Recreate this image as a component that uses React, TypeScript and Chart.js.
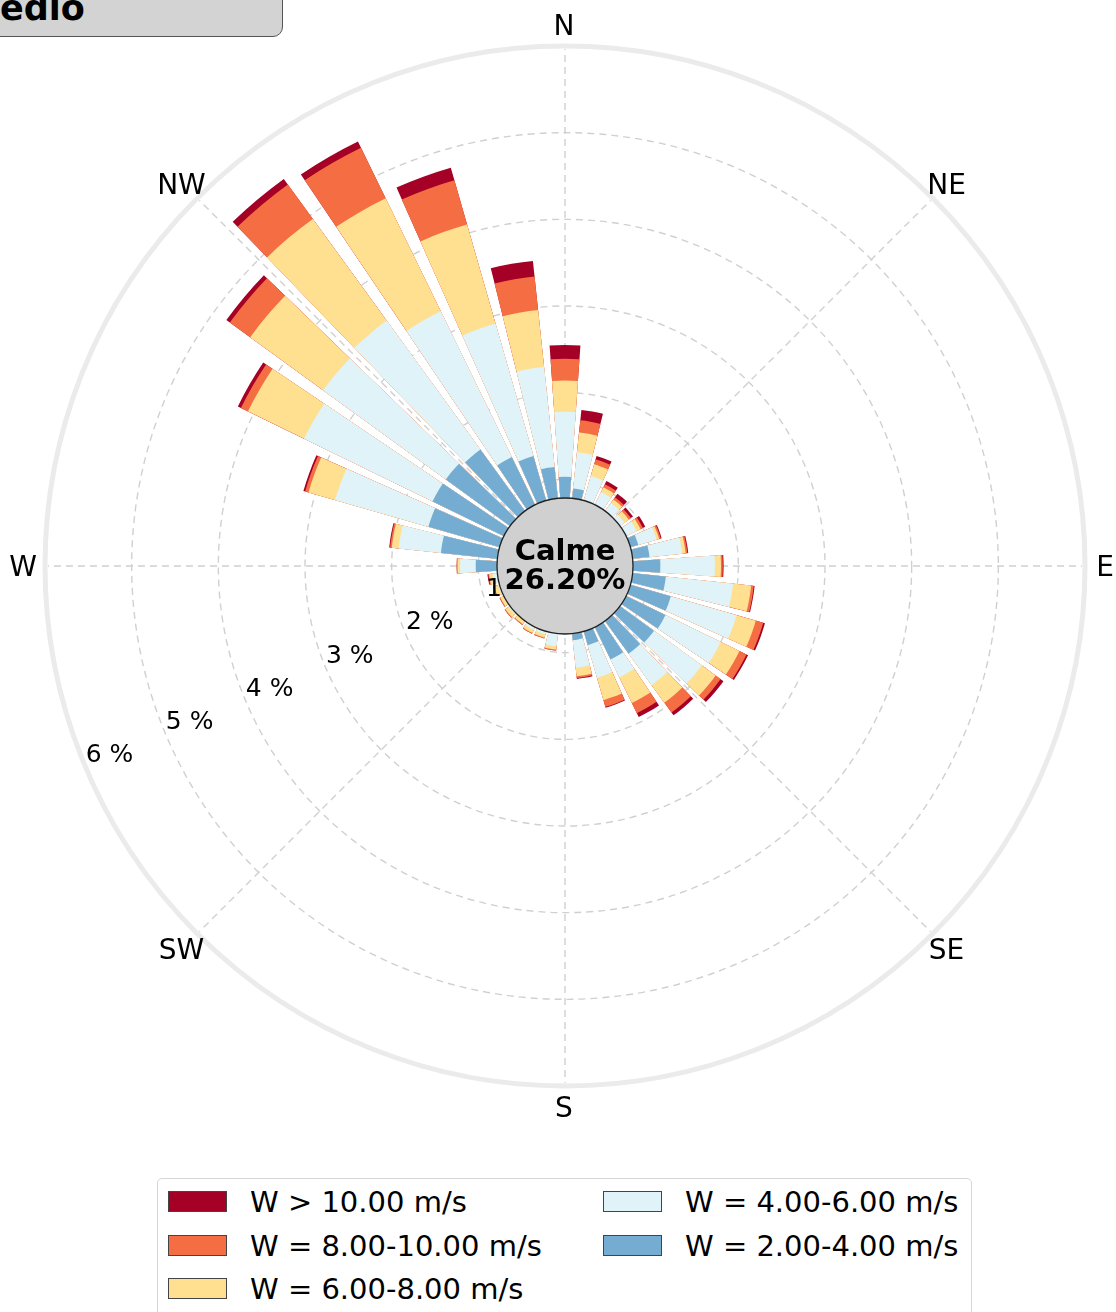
import React, { useEffect, useRef } from 'react';
import { Chart, registerables } from 'chart.js';

Chart.register(...registerables);

// Bearings of the 36 sectors (degrees clockwise from north)
const bearings = [0, 10, 20, 30, 40, 50, 60, 70, 80, 90, 100, 110, 120, 130, 140, 150, 160, 170,
  180, 190, 200, 210, 220, 230, 240, 250, 260, 270, 280, 290, 300, 310, 320, 330, 340, 350];

// Frequency (%) of each speed class per sector
const freq2to4 = [1.03, 0.90, 0.65, 0.55, 0.55, 0.55, 0.70, 0.88, 0.98, 1.10, 1.17, 1.27, 1.29, 1.27, 1.25, 1.20, 0.95, 0.86,
  0.60, 0.70, 0.60, 0.60, 0.55, 0.55, 0.55, 0.55, 0.70, 1.03, 1.44, 1.64, 1.70, 1.70, 1.66, 1.40, 1.32, 1.15];
const freq4to6 = [0.75, 0.42, 0.43, 0.40, 0.35, 0.30, 0.22, 0.22, 0.38, 0.63, 0.78, 0.79, 0.71, 0.68, 0.45, 0.23, 0.39, 0.32,
  0.12, 0.23, 0.22, 0.22, 0.23, 0.25, 0.23, 0.25, 0.14, 0.18, 0.49, 1.12, 1.65, 1.75, 1.84, 1.87, 1.59, 1.16];
const freq6to8 = [0.36, 0.23, 0.14, 0.06, 0.05, 0.06, 0.05, 0.03, 0.04, 0.07, 0.21, 0.23, 0.24, 0.20, 0.25, 0.33, 0.27, 0.10,
  0.03, 0.04, 0.04, 0.04, 0.05, 0.05, 0.05, 0.05, 0.04, 0.03, 0.08, 0.32, 0.72, 1.04, 1.45, 1.45, 1.19, 0.66];
const freq8to10 = [0.25, 0.14, 0.06, 0.04, 0.03, 0.03, 0.03, 0.02, 0.02, 0.02, 0.03, 0.09, 0.09, 0.07, 0.14, 0.13, 0.08, 0.02,
  0.01, 0.01, 0.01, 0.01, 0.01, 0.01, 0.01, 0.01, 0.01, 0.01, 0.02, 0.04, 0.09, 0.29, 0.49, 0.65, 0.53, 0.39];
const freqOver10 = [0.16, 0.12, 0.04, 0.04, 0.05, 0.03, 0.03, 0.01, 0.01, 0.01, 0.01, 0.02, 0.02, 0.04, 0.04, 0.05, 0.01, 0.01,
  0, 0, 0, 0, 0, 0, 0, 0, 0.01, 0, 0.01, 0.02, 0.04, 0.05, 0.08, 0.08, 0.15, 0.18];

const speedLabels = ['W = 2.00-4.00 m/s', 'W = 4.00-6.00 m/s', 'W = 6.00-8.00 m/s', 'W = 8.00-10.00 m/s', 'W > 10.00 m/s'];
const speedColors = ['#74add1', '#e0f3f8', '#fee090', '#f46d43', '#a50026'];

const radialTicks = [1, 2, 3, 4, 5, 6];
const compassLabels = ['N', 'NE', 'E', 'SE', 'S', 'SW', 'W', 'NW'];
const calmLabel = 'Calme';
const calmValue = '26.20%';
const titleText = 'edio';

const radialMax = 6;
const barAngle = 8;
const gapAngle = 2;

const FONT = '"DejaVu Sans", "Liberation Sans", sans-serif';

function buildDatasets() {
  const series = [freq2to4, freq4to6, freq6to8, freq8to10, freqOver10];
  const cumulative: number[][] = [];
  let running = bearings.map(() => 0);
  series.forEach((s) => {
    running = running.map((v, i) => v + s[i]);
    cumulative.push(running.slice());
  });
  return cumulative.map((vals, k) => {
    const data: number[] = [];
    vals.forEach((v) => { data.push(v); data.push(0); });
    return {
      label: speedLabels[k],
      data,
      backgroundColor: speedColors[k],
      borderWidth: 0,
      angle: (c: any) => (c.dataIndex % 2 === 0 ? barAngle : gapAngle),
    };
  });
}

const decorPlugin = {
  id: 'windroseDecor',
  beforeDatasetsDraw(chart: any) {
    const s = chart.scales.r;
    const ctx = chart.ctx;
    const cx = s.xCenter;
    const cy = s.yCenter;
    const R = s.getDistanceFromCenterForValue(radialMax);
    ctx.save();
    // outer spine
    ctx.strokeStyle = '#ebebeb';
    ctx.lineWidth = 5;
    ctx.beginPath();
    ctx.arc(cx, cy, R, 0, Math.PI * 2);
    ctx.stroke();
    // angle lines
    ctx.strokeStyle = '#d0d0d0';
    ctx.lineWidth = 1.4;
    ctx.setLineDash([7, 5]);
    for (let k = 0; k < 8; k++) {
      const a = (k * 45 * Math.PI) / 180;
      ctx.beginPath();
      ctx.moveTo(cx, cy);
      ctx.lineTo(cx + (R - 3) * Math.sin(a), cy - (R - 3) * Math.cos(a));
      ctx.stroke();
    }
    ctx.restore();
  },
  afterDatasetsDraw(chart: any) {
    const s = chart.scales.r;
    const ctx = chart.ctx;
    const cx = s.xCenter;
    const cy = s.yCenter;
    const R = s.getDistanceFromCenterForValue(radialMax);
    ctx.save();
    ctx.fillStyle = '#000';
    ctx.textAlign = 'center';
    ctx.textBaseline = 'middle';
    // radial tick labels along WSW
    ctx.font = `25px ${FONT}`;
    const la = (247.5 * Math.PI) / 180;
    radialTicks.forEach((v) => {
      const d = s.getDistanceFromCenterForValue(v) - 27;
      ctx.fillText(`${v} %`, cx + d * Math.sin(la), cy - d * Math.cos(la) + 1);
    });
    // compass labels
    ctx.font = `28px ${FONT}`;
    compassLabels.forEach((lab, k) => {
      const a = (k * 45 * Math.PI) / 180;
      const d = R + 21;
      ctx.fillText(lab, cx + d * Math.sin(a) - 1, cy - d * Math.cos(a) + 3);
    });
    // calm circle
    ctx.beginPath();
    ctx.arc(cx, cy, 68, 0, Math.PI * 2);
    ctx.fillStyle = '#d0d0d0';
    ctx.fill();
    ctx.lineWidth = 1.3;
    ctx.strokeStyle = '#222';
    ctx.stroke();
    ctx.fillStyle = '#000';
    ctx.font = `bold 29px ${FONT}`;
    ctx.fillText(calmLabel, cx, cy - 14);
    ctx.fillText(calmValue, cx, cy + 15);
    ctx.restore();
  },
};

export default function App() {
  const ref = useRef<HTMLCanvasElement>(null);
  useEffect(() => {
    const labels: string[] = [];
    bearings.forEach((b) => { labels.push(`${b}°`); labels.push(''); });
    const chart = new Chart(ref.current as HTMLCanvasElement, {
      type: 'polarArea',
      data: { labels, datasets: buildDatasets() as any },
      options: {
        responsive: false,
        animation: false,
        events: [],
        layout: { padding: { left: 45, right: 31, top: 46, bottom: 54 } },
        plugins: { legend: { display: false }, tooltip: { enabled: false } },
        scales: {
          r: {
            type: 'radialLinear',
            min: 0,
            max: radialMax,
            startAngle: -barAngle / 2,
            ticks: { display: false, stepSize: 1 },
            grid: {
              circular: true,
              color: (c: any) => (c.tick && c.tick.value === radialMax ? 'rgba(0,0,0,0)' : '#d0d0d0'),
              lineWidth: 1.4,
            },
            border: { dash: [7, 5] },
            angleLines: { display: false },
            pointLabels: { display: false },
          },
        },
      } as any,
      plugins: [decorPlugin],
    });
    return () => chart.destroy();
  }, []);

  const legendLeft = [speedLabels[4], speedLabels[3], speedLabels[2]];
  const legendRight = [speedLabels[1], speedLabels[0]];
  const colorOf = (lab: string) => speedColors[speedLabels.indexOf(lab)];
  const rowCenters = [23, 67, 110];

  return (
    <div style={{ position: 'absolute', left: 0, top: 0, width: 1116, height: 1312, overflow: 'hidden', background: '#fff' }}>
      <canvas ref={ref} width={1116} height={1140} style={{ position: 'absolute', left: 0, top: 0, width: 1116, height: 1140 }} />
      <div style={{ position: 'absolute', left: -20, top: -30, width: 303, height: 67, boxSizing: 'border-box', border: '1.5px solid #555', borderRadius: 10, background: '#d3d3d3' }}>
        <span style={{ position: 'absolute', left: 19, top: 20, font: `bold 35px ${FONT}`, lineHeight: '34px', color: '#000', whiteSpace: 'nowrap' }}>{titleText}</span>
      </div>
      <div style={{ position: 'absolute', left: 157, top: 1178, width: 815, height: 170, boxSizing: 'border-box', border: '1px solid #d6d6d6', borderRadius: 5, background: '#fff' }}>
        {[legendLeft, legendRight].map((col, ci) =>
          col.map((lab, ri) => (
            <React.Fragment key={lab}>
              <div style={{ position: 'absolute', left: ci === 0 ? 10 : 445, top: rowCenters[ri] - 11, width: 59, height: 21, boxSizing: 'border-box', border: '1px solid #444', background: colorOf(lab) }} />
              <div style={{ position: 'absolute', left: ci === 0 ? 92 : 527, top: rowCenters[ri] - 17, font: `29px ${FONT}`, lineHeight: '34px', color: '#000', whiteSpace: 'nowrap' }}>{lab}</div>
            </React.Fragment>
          ))
        )}
      </div>
    </div>
  );
}
